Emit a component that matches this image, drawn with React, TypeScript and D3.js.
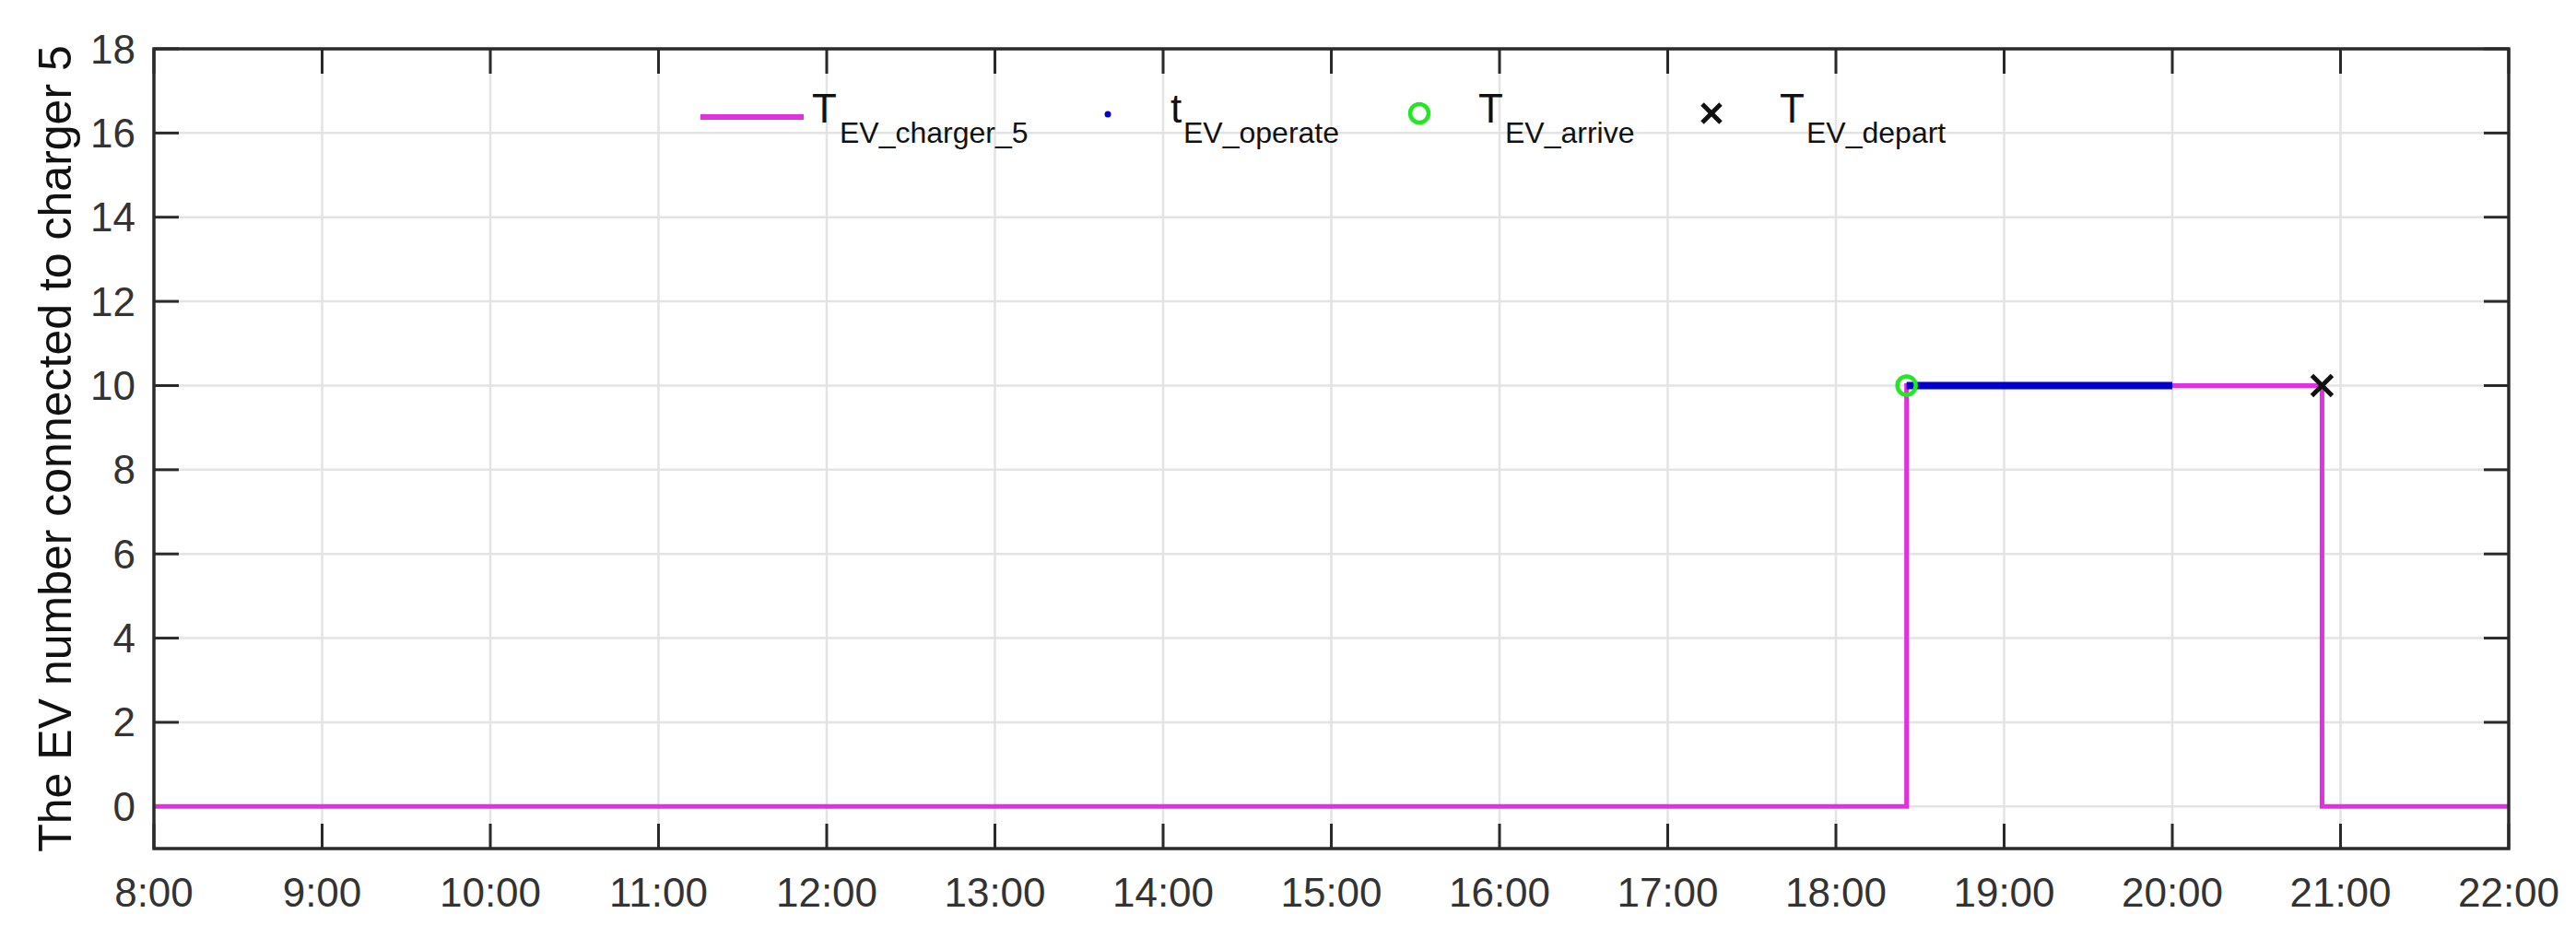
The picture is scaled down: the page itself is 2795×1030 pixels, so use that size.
import React from 'react';
import * as d3 from 'd3';

// ---- data ----
const hourTicks = [8, 9, 10, 11, 12, 13, 14, 15, 16, 17, 18, 19, 20, 21, 22];
const hourLabels = ['8:00', '9:00', '10:00', '11:00', '12:00', '13:00', '14:00', '15:00', '16:00', '17:00', '18:00', '19:00', '20:00', '21:00', '22:00'];
const yTicks = [0, 2, 4, 6, 8, 10, 12, 14, 16, 18];

// T_EV_charger_5 step series (hours, EV number)
const chargerTimes = [8, 18.42, 20.89, 22];
const chargerValues = [0, 10, 0, 0];
// t_EV_operate interval
const operateTimes = [18.42, 20.0];
const operateValues = [10, 10];
// markers
const arriveTime = [18.42];
const arriveValue = [10];
const departTime = [20.89];
const departValue = [10];

const yLabel = 'The EV number connected to charger 5';

const W = 2795;
const H = 1030;
const M = { left: 167, right: 2722, top: 53, bottom: 921 };
const FONT = '"Liberation Sans", Arial, Helvetica, sans-serif';
const AXIS = '#2a2a2a';
const GRID = '#e3e3e3';
const MAGENTA = '#e030e0';
const BLUE = '#0000d0';
const GREEN = '#22e822';

export default function App() {
  const x = d3.scaleLinear().domain([8, 22]).range([M.left, M.right]);
  const y = d3.scaleLinear().domain([-1, 18]).range([M.bottom, M.top]);

  const chargerPts: [number, number][] = chargerTimes.map((t, i) => [t, chargerValues[i]]);
  const stepLine = d3
    .line<[number, number]>()
    .x((d) => x(d[0]))
    .y((d) => y(d[1]))
    .curve(d3.curveStepAfter);
  const plainLine = d3
    .line<[number, number]>()
    .x((d) => x(d[0]))
    .y((d) => y(d[1]));
  const operatePts: [number, number][] = operateTimes.map((t, i) => [t, operateValues[i]]);

  const tickLen = 27;
  const xs = 11; // x marker half-size

  // legend layout
  const legY = 125;
  const legBase = 133;
  const subBase = 155;
  const mainSize = 44;
  const subSize = 32;

  return (
    <svg width={W} height={H} style={{ display: 'block', position: 'absolute', left: 0, top: 0 }}>
      <rect x={0} y={0} width={W} height={H} fill="#ffffff" />
      {/* grid */}
      <g>
        {hourTicks.slice(1, -1).map((h) => (
          <line key={'gx' + h} x1={x(h)} x2={x(h)} y1={M.top} y2={M.bottom} stroke={GRID} strokeWidth={2.5} />
        ))}
        {yTicks.map((v) => (
          <line key={'gy' + v} x1={M.left} x2={M.right} y1={y(v)} y2={y(v)} stroke={GRID} strokeWidth={2.5} />
        ))}
      </g>
      {/* ticks */}
      <g stroke={AXIS} strokeWidth={3}>
        {hourTicks.map((h) => (
          <g key={'tx' + h}>
            <line x1={x(h)} x2={x(h)} y1={M.bottom} y2={M.bottom - tickLen} />
            <line x1={x(h)} x2={x(h)} y1={M.top} y2={M.top + tickLen} />
          </g>
        ))}
        {yTicks.map((v) => (
          <g key={'ty' + v}>
            <line x1={M.left} x2={M.left + tickLen} y1={y(v)} y2={y(v)} />
            <line x1={M.right} x2={M.right - tickLen} y1={y(v)} y2={y(v)} />
          </g>
        ))}
      </g>
      {/* data */}
      <path d={stepLine(chargerPts) || ''} fill="none" stroke={MAGENTA} strokeWidth={5} />
      <path d={plainLine(operatePts) || ''} fill="none" stroke={BLUE} strokeWidth={8} />
      {arriveTime.map((t, i) => (
        <circle key={'a' + i} cx={x(t)} cy={y(arriveValue[i])} r={10} fill="none" stroke={GREEN} strokeWidth={4.5} />
      ))}
      {departTime.map((t, i) => (
        <g key={'d' + i} stroke="#111" strokeWidth={5}>
          <line x1={x(t) - xs} x2={x(t) + xs} y1={y(departValue[i]) - xs} y2={y(departValue[i]) + xs} />
          <line x1={x(t) - xs} x2={x(t) + xs} y1={y(departValue[i]) + xs} y2={y(departValue[i]) - xs} />
        </g>
      ))}
      {/* frame */}
      <rect x={M.left} y={M.top} width={M.right - M.left} height={M.bottom - M.top} fill="none" stroke={AXIS} strokeWidth={3.5} />
      {/* tick labels */}
      <g fontFamily={FONT} fontSize={44} fill="#333">
        {hourTicks.map((h, i) => (
          <text key={'lx' + h} x={x(h)} y={984} textAnchor="middle">
            {hourLabels[i]}
          </text>
        ))}
        {yTicks.map((v) => (
          <text key={'ly' + v} x={M.left - 20} y={y(v)} textAnchor="end" dominantBaseline="central">
            {v}
          </text>
        ))}
      </g>
      {/* y label */}
      <text
        transform={`translate(77, ${(M.top + M.bottom) / 2}) rotate(-90)`}
        textAnchor="middle"
        fontFamily={FONT}
        fontSize={50}
        fill="#111"
      >
        {yLabel}
      </text>
      {/* legend */}
      <g fontFamily={FONT} fill="#111">
        <line x1={760} x2={872} y1={legY + 2} y2={legY + 2} stroke={MAGENTA} strokeWidth={6} />
        <text x={881} y={legBase} fontSize={mainSize}>T</text>
        <text x={911} y={subBase} fontSize={subSize}>EV_charger_5</text>

        <circle cx={1202} cy={legY - 1} r={3.5} fill={BLUE} />
        <text x={1270} y={legBase} fontSize={mainSize}>t</text>
        <text x={1284} y={subBase} fontSize={subSize}>EV_operate</text>

        <circle cx={1540} cy={legY - 2} r={10} fill="none" stroke={GREEN} strokeWidth={4.5} />
        <text x={1604} y={legBase} fontSize={mainSize}>T</text>
        <text x={1633} y={subBase} fontSize={subSize}>EV_arrive</text>

        <g stroke="#111" strokeWidth={5}>
          <line x1={1857 - 10} x2={1857 + 10} y1={legY - 2 - 10} y2={legY - 2 + 10} />
          <line x1={1857 - 10} x2={1857 + 10} y1={legY - 2 + 10} y2={legY - 2 - 10} />
        </g>
        <text x={1931} y={legBase} fontSize={mainSize}>T</text>
        <text x={1960} y={subBase} fontSize={subSize}>EV_depart</text>
      </g>
    </svg>
  );
}
